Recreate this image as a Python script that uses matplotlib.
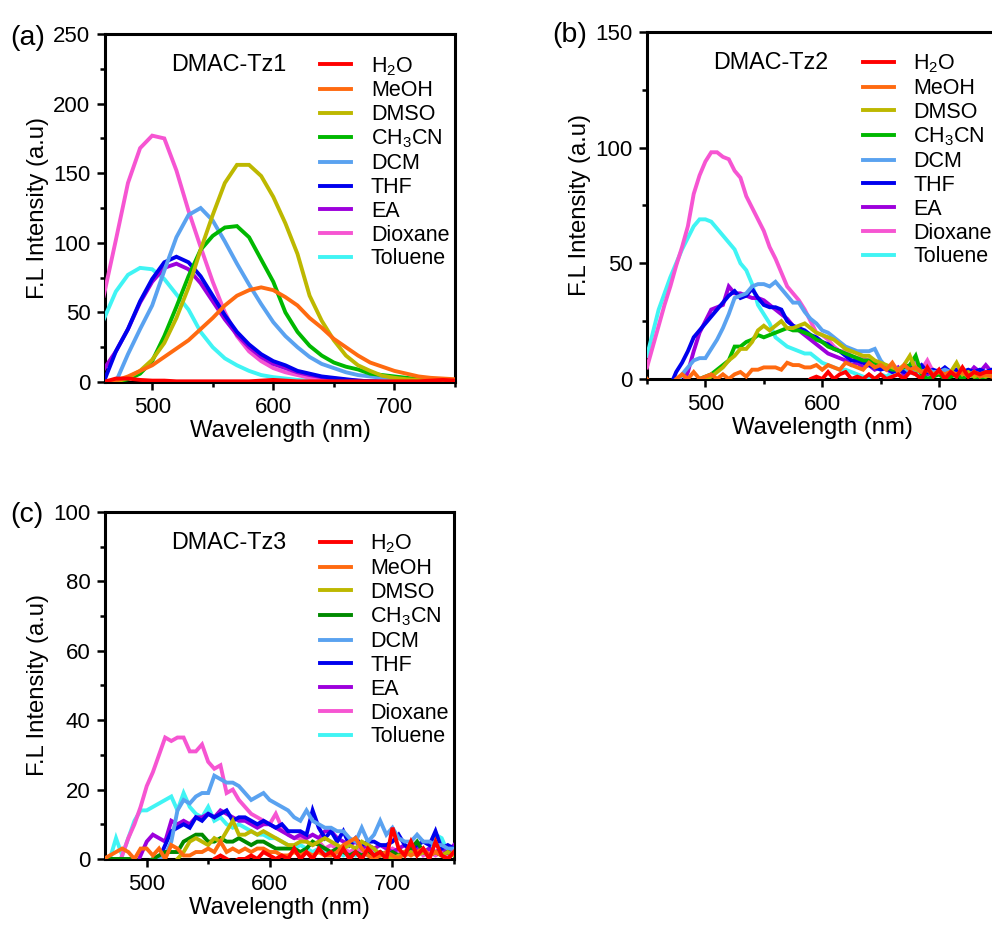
"""Fluorescence spectra of DMAC-Tz1/2/3 in solvents of different polarity."""
import matplotlib

matplotlib.use("Agg")
import matplotlib.pyplot as plt
import numpy as np
from matplotlib.ticker import MultipleLocator

plt.rcParams["font.family"] = ["Liberation Sans", "DejaVu Sans"]
plt.rcParams["mathtext.default"] = "regular"

LABELS = ["H$_2$O", "MeOH", "DMSO", "CH$_3$CN", "DCM", "THF", "EA", "Dioxane", "Toluene"]
COLORS = ["#ff0000", "#ff6a10", "#bdb800", "#00b800", "#5aa2f0",
          "#0000ee", "#9d00dc", "#f655d2", "#40f4f4"]
COLORS_C = COLORS[:3] + ["#008a00"] + COLORS[4:]

# ---- (a) DMAC-Tz1, 10 nm grid ----
WL_A = np.arange(460, 751, 10)
A_H2O = [0, 2.5, 2.5, 1.5, 1, 1, 0.5, 0.5, 0.5, 0.5, 0.5, 0.5, 0.5, 1, 1.5,
         1, 0.5, 0.5, 0.5, 0.5, 0.5, 0.5, 0.5, 0.5, 0.5, 0.5, 0.5, 1, 1.5, 1]
A_MEOH = [0, 1, 4, 8, 12, 18, 24, 30, 38, 46, 55, 62, 66, 68, 66,
          61, 55, 46, 39, 31, 25, 19, 14, 11, 8, 6, 4, 3, 2.5, 2]
A_DMSO = [0, 0, 3, 8, 16, 28, 46, 68, 95, 120, 143, 156, 156, 148, 133,
          114, 92, 62, 44, 30, 19, 12, 8, 4.5, 3, 2, 1.5, 1, 0.7, 0.5]
A_CH3CN = [0, 0, 2, 6, 15, 33, 54, 76, 95, 105, 111, 112, 104, 88, 72,
           50, 36, 26, 19, 14, 11, 9, 6, 5, 4, 3, 2, 1.5, 1, 0.5]
A_DCM = [0, 0, 20, 38, 55, 80, 104, 120, 125, 116, 101, 85, 70, 56, 43,
         33, 25, 18, 13, 10, 7, 5, 4, 3, 2, 1.5, 1, 0.5, 0.3, 0.2]
A_THF = [0, 22, 38, 58, 74, 86, 90, 86, 76, 62, 48, 36, 27, 20, 15,
         12, 8, 6, 4, 3, 2, 1, 0.5, 0.3, 0.3, 0.2, 0.2, 0.2, 0.2, 0.2]
A_EA = [9, 22, 38, 57, 72, 82, 85, 81, 71, 58, 45, 34, 25, 18, 13,
        10, 7, 5, 3.5, 2.5, 1.5, 1, 0.5, 0.3, 0.3, 0.2, 0.2, 0.2, 0.2, 0.2]
A_DIOX = [62, 102, 143, 168, 177, 175, 152, 123, 97, 72, 50, 33, 22, 15, 10,
          7, 5, 3, 2, 1.5, 1, 0.5, 0.3, 0.3, 0.3, 0.2, 0.2, 0.2, 0.2, 0.2]
A_TOL = [45, 65, 77, 82, 81, 74, 63, 52, 36, 25, 17, 12, 8, 5, 3.5,
         2.5, 1.5, 1, 0.6, 0.3, 0.3, 0.3, 0.2, 0.2, 0.2, 0.2, 0.2, 0.2, 0.2, 0.2]

# ---- (b) DMAC-Tz2, 5 nm grid (values below 0 sit under the axis) ----
WL_B = np.arange(450, 751, 5)
B_H2O = ([-3] * 28 +
         [0, 1, 0, 3, 0, 2, 3, 0, 1, 0, 2, 0, 2, 0, 1, 2, 0, 3, 2, 0,
          5, 1, 4, 0, 3, 1, 5, 1, 3, 2, 3, 3, 4])
B_MEOH = [0, -3, -3, -3, -3, 0, 2, 0, 3, 0,
          1, 2, 0, 2, 0, 2, 3, 1, 4, 4,
          5, 5, 5, 4, 7, 6, 6, 5, 5, 6,
          4, 6, 5, 4, 7, 6, 5, 4, 7, 5,
          6, 4, 7, 3, 6, 4, 5, 3, 4, 2,
          3, 2, 3, 2, 3, 1, 3, 1, 2, 1, 2]
B_DMSO = [-3, -3, -3, -3, -3, -3, -3, -3, -3, -3,
          0, 1, 3, 5, 8, 10, 13, 13, 16, 21,
          23, 21, 23, 25, 22, 22, 23, 24, 22, 20,
          19, 18, 17, 15, 13, 12, 11, 10, 10, 8,
          7, 6, 5, 4, 6, 10, 4, 3, 4, 2,
          3, 2, 3, 7, 2, 3, 1, 2, 1, 2, 2]
B_CH3CN = [-3, -3, -3, -3, -3, -3, -3, -3, -3, 0,
           1, 2, 4, 6, 8, 14, 14, 16, 17, 19,
           18, 19, 20, 21, 22, 21, 21, 20, 19, 17,
           16, 14, 13, 12, 11, 10, 9, 8, 8, 7,
           6, 5, 4, 4, 5, 6, 10, 2, 0, 1,
           2, 0, 1, 2, 0, 2, 1, 0, 1, 2, 0]
B_DCM = [-3, -3, -3, -3, -3, -3, 2, 5, 8, 9,
         9, 13, 17, 22, 28, 35, 36, 37, 40, 41,
         41, 40, 42, 39, 36, 33, 33, 29, 26, 24,
         21, 20, 18, 16, 14, 13, 12, 12, 12, 13,
         8, 5, 6, 4, 5, 3, 4, 3, 4, 3,
         3, 4, 3, 2, 3, 2, 3, 2, 3, 2, 2]
B_THF = [-3, -3, -3, -3, -3, 3, 7, 12, 18, 21,
         24, 27, 30, 33, 36, 38, 35, 36, 39, 35,
         32, 31, 31, 30, 25, 23, 22, 21, 19, 18,
         16, 15, 13, 12, 10, 8, 8, 7, 6, 5,
         4, 5, 3, 4, 3, 5, 4, 6, 3, 4,
         3, 5, 3, 4, 3, 4, 3, 4, 3, 4, 4]
B_EA = [-3, -3, -3, -3, -3, -3, -3, 3, 12, 20,
        25, 30, 31, 32, 40, 37, 37, 36, 35, 35,
        34, 32, 30, 28, 26, 23, 21, 19, 17, 15,
        13, 11, 10, 9, 8, 6, 7, 5, 6, 4,
        5, 4, 3, 5, 2, 4, 3, 5, 2, 3,
        2, 4, 2, 4, 3, 2, 5, 3, 6, 3, 4]
B_DIOX = [5, 14, 23, 32, 40, 49, 57, 66, 80, 88,
          94, 98, 98, 96, 95, 90, 87, 79, 74, 69,
          64, 57, 52, 46, 40, 37, 34, 30, 25, 20,
          19, 17, 14, 12, 12, 10, 9, 9, 8, 7,
          6, 5, 6, 4, 5, 3, 7, 4, 8, 3,
          4, 3, 2, 3, 2, 3, 2, 3, 2, 3, 3]
B_TOL = [10, 20, 30, 37, 44, 50, 56, 61, 66, 69,
         69, 68, 65, 62, 59, 56, 50, 47, 41, 32,
         28, 24, 18, 16, 14, 13, 12, 11, 11, 9,
         7, 6, 5, 4, 4, 3, 2, 1, 0, 0,
         2, 1, 3, 2, 1, 3, 2, 3, 1, 2,
         3, 2, 3, 1, 2, 3, 2, 1, 2, 2, 1]

# ---- (c) DMAC-Tz3, 5 nm grid ----
WL_C = np.arange(465, 751, 5)
C_H2O = [-3, -3, -3, -3, -3, -3, -3, -3, -3, -3,
         -3, -3, -3, -3, -3, -3, -3, -3, 0, 1,
         0, -1, 0, 0, 1, 0, 2, 1, 0, 1,
         0, 3, 0, 2, 0, 3, 1, 2, 0, 3,
         0, 2, 0, 3, 1, 2, 0, 9, 3, 1,
         5, 1, 3, 0, 5, 1, 0, 2]
C_MEOH = [0, 1, 2, 3, 2, 0, 3, 3, 1, 3,
          0, 4, 3, 1, 1, 2, 2, 3, 2, 5,
          2, 3, 2, 3, 2, 3, 3, 2, 2, 1,
          1, 2, 1, 2, 1, 2, 1, 1, 2, 4,
          5, 6, 3, 1, 0, 1, 2, 1, 0, 2,
          1, 2, 3, 1, 2, 1, 0, 2]
C_DMSO = [-3, -3, -3, -3, -3, -3, -3, -3, -3, -3,
          -3, -3, 0, 2, 5, 6, 5, 4, 6, 5,
          8, 11, 7, 7, 8, 7, 8, 7, 6, 5,
          4, 4, 5, 5, 4, 5, 6, 5, 4, 3,
          4, 3, 5, 4, 3, 1, 1, 0, 1, 1,
          2, 1, 2, 1, 2, 1, 2, 1]
C_CH3CN = [0, 0, 0, 0, 0, 0, -1, -1, 0, 1,
           2, 2, 2, 5, 6, 7, 7, 5, 5, 6,
           5, 5, 6, 5, 4, 5, 5, 4, 3, 3,
           3, 3, 2, 3, 5, 4, 3, 2, 3, 2,
           1, 2, 1, 2, 1, 2, 1, 2, 1, 2,
           3, 5, 2, 1, 2, 1, 2, 1]
C_DCM = [-3, -3, -3, -3, -3, -3, -3, -3, -3, 0,
         1, 5, 14, 17, 16, 18, 19, 19, 24, 23,
         22, 22, 21, 19, 17, 18, 19, 17, 16, 15,
         14, 12, 11, 14, 11, 10, 9, 9, 8, 8,
         6, 5, 9, 5, 7, 11, 7, 9, 6, 5,
         5, 7, 5, 5, 4, 4, 3, 3]
C_THF = [-3, -3, -3, -3, -3, -3, -3, -3, -3, 0,
         4, 8, 9, 10, 9, 12, 11, 13, 12, 13,
         14, 11, 12, 12, 11, 10, 11, 10, 9, 10,
         8, 8, 8, 7, 14, 9, 6, 8, 5, 8,
         4, 6, 4, 5, 5, 4, 4, 5, 7, 4,
         3, 4, 5, 4, 8, 3, 4, 3]
C_EA = [-3, -3, -3, -3, -3, -3, 1, 5, 7, 6,
        5, 11, 10, 11, 10, 12, 12, 13, 12, 14,
        13, 12, 11, 11, 10, 9, 10, 10, 9, 8,
        7, 6, 7, 6, 7, 6, 8, 8, 6, 5,
        4, 5, 3, 4, 3, 4, 3, 2, 3, 4,
        2, 3, 2, 3, 2, 3, 2, 4]
C_DIOX = [-3, -3, -3, 1, 6, 10, 15, 21, 25, 30,
          35, 34, 35, 35, 31, 31, 33, 28, 26, 27,
          19, 20, 17, 15, 13, 12, 11, 10, 13, 9,
          7, 6, 6, 5, 4, 5, 3, 4, 3, 3,
          2, 3, 2, 2, 3, 1, 2, 3, 2, 1,
          2, 3, 1, 2, 1, 2, 1, 2]
C_TOL = [-3, 0, 6, 1, 6, 11, 14, 14, 15, 16,
         17, 18, 14, 19, 15, 13, 12, 15, 11, 12,
         10, 9, 10, 9, 8, 7, 7, 6, 6, 5,
         4, 3, 4, 3, 2, 3, 2, 1, 2, 1,
         2, 1, 2, 1, 2, 1, 2, 1, 2, 1,
         2, 3, 2, 3, 7, 6, 2, 2]


def draw_panel(ax, wl, series, colors, name, letter, xlim, ymax, ystep):
    # first series (H2O) ends up on top
    for i, (y, c, lab) in enumerate(zip(series, colors, LABELS)):
        ax.plot(wl, y, color=c, lw=2.8, label=lab, zorder=20 - i,
                solid_joinstyle="miter")
    ax.set_xlim(*xlim)
    ax.set_ylim(0, ymax)
    ax.xaxis.set_major_locator(MultipleLocator(100))
    ax.xaxis.set_minor_locator(MultipleLocator(50))
    ax.yaxis.set_major_locator(MultipleLocator(ystep))
    ax.yaxis.set_minor_locator(MultipleLocator(ystep / 2))
    ax.tick_params(which="major", length=6, width=1.8, labelsize=16, pad=4.5)
    ax.tick_params(which="minor", length=3.5, width=1.8)
    for sp in ax.spines.values():
        sp.set_linewidth(2.2)
    ax.set_xlabel("Wavelength (nm)", fontsize=17.2, labelpad=2)
    ax.set_ylabel("F.L Intensity (a.u)", fontsize=17.2, labelpad=3)
    ax.text(0.19, 0.912, name, transform=ax.transAxes, fontsize=16.8,
            va="center", ha="left")
    ax.text(-0.27, 0.99, letter, transform=ax.transAxes, fontsize=20.5,
            va="center", ha="left")
    ax.legend(loc="upper left", bbox_to_anchor=(0.615, 0.94), frameon=False,
              fontsize=15.5, handlelength=1.45, handletextpad=0.9,
              labelspacing=0.13, borderpad=0, borderaxespad=0)


def main() -> None:
    fig = plt.figure(figsize=(9.92, 9.27), dpi=100)
    ax_a = fig.add_axes([0.1058, 0.5879, 0.3528, 0.3754])
    ax_b = fig.add_axes([0.6522, 0.5912, 0.3533, 0.3743])
    ax_c = fig.add_axes([0.1058, 0.0734, 0.3518, 0.3743])

    draw_panel(ax_a, WL_A,
               [A_H2O, A_MEOH, A_DMSO, A_CH3CN, A_DCM, A_THF, A_EA, A_DIOX, A_TOL],
               COLORS, "DMAC-Tz1", "(a)", (461, 750), 250, 50)
    draw_panel(ax_b, WL_B,
               [B_H2O, B_MEOH, B_DMSO, B_CH3CN, B_DCM, B_THF, B_EA, B_DIOX, B_TOL],
               COLORS, "DMAC-Tz2", "(b)", (450, 750), 150, 50)
    draw_panel(ax_c, WL_C,
               [C_H2O, C_MEOH, C_DMSO, C_CH3CN, C_DCM, C_THF, C_EA, C_DIOX, C_TOL],
               COLORS_C, "DMAC-Tz3", "(c)", (466, 750), 100, 20)

    fig.savefig("out.png", dpi=100)
    plt.close(fig)


if __name__ == "__main__":
    main()
